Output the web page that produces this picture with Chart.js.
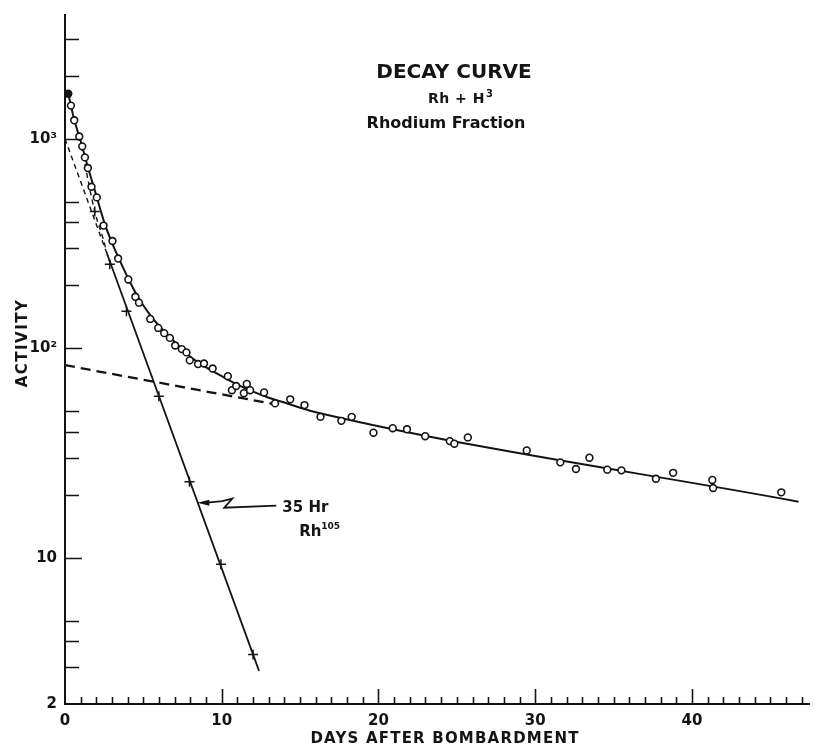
<!DOCTYPE html>
<html>
<head>
<meta charset="utf-8">
<script src="https://cdn.jsdelivr.net/npm/chart.js@4.4.1/dist/chart.umd.min.js"></script>
<style>
  body { margin: 0; background: #fff; }
  canvas { display: block; }
</style>
</head>
<body>
<canvas id="decay_chart" width="816" height="746"></canvas>
<script>
// open circles: measured activity of the rhodium fraction
var circleDays = [0.21, 0.38, 0.59, 0.91, 1.10, 1.27, 1.46, 1.69, 2.03, 2.46, 3.03, 3.39, 4.04, 4.49, 4.72,
    5.44, 5.95, 6.33, 6.69, 7.03, 7.45, 7.75, 7.96, 8.49, 8.87, 9.42, 10.39, 10.65, 10.92, 11.41, 11.6, 11.81,
    12.7, 13.4, 14.37, 15.28, 16.3, 17.63, 18.29, 19.68, 20.91, 21.82, 22.98, 24.55, 24.84, 25.7, 29.46,
    31.6, 32.6, 33.46, 34.6, 35.5, 37.7, 38.8, 41.3, 41.35, 45.7];
var circleActivity = [1640, 1440, 1225, 1025, 920, 815, 725, 590, 525, 385, 325, 268, 213, 176, 165,
    138, 125, 118, 112, 103, 99, 95.5, 87.5, 84, 84.5, 80, 73.5, 63, 66, 61, 67.5, 63,
    61.5, 54.5, 57, 53.5, 47, 45, 47, 39.5, 41.5, 41, 38, 36, 35, 37.5, 32.5,
    28.5, 26.5, 30, 26.3, 26.1, 23.8, 25.4, 23.5, 21.5, 20.5];

// "+" points: 35 hr component after subtracting the long one
var crossDays = [1.9, 2.86, 3.92, 5.99, 7.94, 9.95, 12.0];
var crossActivity = [450, 252, 150, 59, 23, 9.3, 3.45];

// hand drawn curve through the circles
var curveDays = [0.21, 0.6, 1.0, 1.5, 2.0, 2.5, 3.0, 3.5, 4.0, 4.5, 5.0, 5.5, 6.0, 7.0, 8.0, 9.0,
    10.0, 11.0, 12.0, 13.0, 14.0, 15.0, 16.0, 46.8];
var curveActivity = [1640, 1225, 975, 715, 535, 400, 318, 262, 218, 184, 160, 142, 128, 107, 91, 81,
    73.5, 67, 62, 58, 55, 52, 49.5, 18.5];

// 35 hr Rh105 line and its dashed extrapolations
var shortLineDays = [2.7, 12.38];
var shortLineActivity = [280, 2.88];
var shortDashDays = [0, 2.7];
var shortDashActivity = [1000, 280];
var innerDashDays = [1.05, 1.9, 2.45, 2.8];
var innerDashActivity = [920, 449, 330, 262];

// long lived component, dashed back to day 0
var longDashDays = [0, 13.5];
var longDashActivity = [83, 53.8];

// axes
var xLabelDays = [0, 10, 20, 30, 40];
var yLabelValues = [2, 10, 100, 1000];
var yLabelTexts = ['2', '10', '10²', '10³'];
var yMinorTicks = [3, 4, 5, 20, 30, 40, 50, 200, 300, 400, 500, 2000, 3000];

// where the "35 Hr" arrow touches the line
var arrowDay = 8.44;
var arrowActivity = 18.3;

var inkColor = '#141414';
var letterFont = '"DejaVu Sans", sans-serif';

function pairs(xs, ys) {
    return xs.map(function (x, i) { return { x: x, y: ys[i] }; });
}

function letters(ctx, text, x, y, size, align, spacing) {
    ctx.font = 'bold ' + size + 'px ' + letterFont;
    ctx.letterSpacing = (spacing || 0) + 'px';
    ctx.textAlign = align;
    ctx.textBaseline = 'alphabetic';
    ctx.fillText(text, x, y);
}

const paperPlugin = {
    id: 'paper',
    afterDraw(chart) {
        const ctx = chart.ctx;
        const xs = chart.scales.x;
        const ys = chart.scales.y;
        const area = chart.chartArea;

        ctx.save();
        ctx.strokeStyle = inkColor;
        ctx.fillStyle = inkColor;
        ctx.lineWidth = 1.6;

        // tick marks point into the plot
        ctx.beginPath();
        yLabelValues.concat(yMinorTicks).forEach(function (v) {
            var py = Math.round(ys.getPixelForValue(v)) + 0.5;
            var len = yLabelValues.indexOf(v) >= 0 ? 17 : 14;
            if (v === 2) return;
            ctx.moveTo(area.left, py);
            ctx.lineTo(area.left + len, py);
        });
        for (var d = 1; d <= 47; d++) {
            var px = Math.round(xs.getPixelForValue(d)) + 0.5;
            var len = d % 10 === 0 ? 15 : 7;
            ctx.moveTo(px, area.bottom);
            ctx.lineTo(px, area.bottom - len);
        }
        ctx.stroke();

        // axis titles
        letters(ctx, 'DAYS AFTER BOMBARDMENT', 445, 743, 15, 'center', 1.2);
        ctx.save();
        ctx.translate(27, 343);
        ctx.rotate(-Math.PI / 2);
        letters(ctx, 'ACTIVITY', 0, 0, 15, 'center', 1.5);
        ctx.restore();

        // title block
        letters(ctx, 'DECAY CURVE', 454, 78, 20, 'center', 0);
        letters(ctx, 'Rh + H', 428, 103, 14, 'left', 0.5);
        letters(ctx, '3', 486, 97, 10, 'left', 0);
        letters(ctx, 'Rhodium Fraction', 446, 128, 16, 'center', 0);

        // 35 Hr arrow
        var tx = xs.getPixelForValue(arrowDay);
        var ty = ys.getPixelForValue(arrowActivity);
        ctx.beginPath();
        ctx.moveTo(tx, ty);
        ctx.lineTo(tx + 12, ty - 3);
        ctx.lineTo(tx + 12, ty + 3);
        ctx.closePath();
        ctx.fill();
        ctx.beginPath();
        ctx.lineWidth = 1.8;
        ctx.moveTo(tx + 10, ty);
        ctx.lineTo(tx + 25, ty - 1.5);
        ctx.lineTo(tx + 35, ty - 4);
        ctx.lineTo(tx + 27, ty + 5);
        ctx.lineTo(tx + 79, ty + 3);
        ctx.stroke();
        letters(ctx, '35 Hr', tx + 85, ty + 9, 15, 'left', 0);
        letters(ctx, 'Rh', tx + 102, ty + 33, 15, 'left', 0);
        letters(ctx, '105', tx + 124, ty + 26, 9, 'left', 0);

        ctx.restore();
    }
};

var lineBase = {
    borderColor: inkColor,
    pointRadius: 0,
    fill: false,
    order: 2
};

new Chart(document.getElementById('decay_chart'), {
    type: 'line',
    data: {
        datasets: [
            {
                label: 'measured',
                data: pairs(circleDays, circleActivity),
                showLine: false,
                pointRadius: 3.4,
                pointBorderWidth: 1.6,
                pointBorderColor: inkColor,
                pointBackgroundColor: circleDays.map(function (d, i) { return i === 0 ? inkColor : '#fff'; }),
                order: 0
            },
            {
                label: '35 hr points',
                data: pairs(crossDays, crossActivity),
                showLine: false,
                pointStyle: 'cross',
                pointRadius: 5,
                pointBorderWidth: 1.5,
                pointBorderColor: inkColor,
                order: 0
            },
            Object.assign({}, lineBase, {
                label: 'curve',
                data: pairs(curveDays, curveActivity),
                borderWidth: 2,
                cubicInterpolationMode: 'monotone'
            }),
            Object.assign({}, lineBase, {
                label: 'long component',
                data: pairs(longDashDays, longDashActivity),
                borderWidth: 2.3,
                borderDash: [10, 6]
            }),
            Object.assign({}, lineBase, {
                label: '35 hr',
                data: pairs(shortLineDays, shortLineActivity),
                borderWidth: 1.8
            }),
            Object.assign({}, lineBase, {
                label: '35 hr extrapolated',
                data: pairs(shortDashDays, shortDashActivity),
                borderWidth: 1.4,
                borderDash: [5, 4]
            }),
            Object.assign({}, lineBase, {
                label: 'difference',
                data: pairs(innerDashDays, innerDashActivity),
                borderWidth: 1.4,
                borderDash: [5, 4],
                cubicInterpolationMode: 'monotone'
            })
        ]
    },
    options: {
        responsive: false,
        animation: false,
        layout: {
            padding: { top: 15, right: 3, left: 0, bottom: 0 }
        },
        scales: {
            x: {
                type: 'linear',
                min: 0,
                max: 47.5,
                afterFit: function (scale) { scale.height = 42; },
                afterBuildTicks: function (scale) {
                    scale.ticks = xLabelDays.map(function (v) { return { value: v }; });
                },
                grid: { display: false },
                border: { display: true, color: inkColor, width: 2 },
                ticks: {
                    autoSkip: false,
                    maxRotation: 0,
                    padding: 0,
                    color: inkColor,
                    font: { family: letterFont, size: 15, weight: 'bold' }
                }
            },
            y: {
                type: 'logarithmic',
                min: 2,
                max: 3900,
                afterFit: function (scale) { scale.width = 65; },
                afterBuildTicks: function (scale) {
                    scale.ticks = yLabelValues.map(function (v) { return { value: v }; });
                },
                grid: { display: false },
                border: { display: true, color: inkColor, width: 2 },
                ticks: {
                    autoSkip: false,
                    padding: 0,
                    color: inkColor,
                    font: { family: letterFont, size: 15, weight: 'bold' },
                    callback: function (value) {
                        var i = yLabelValues.indexOf(value);
                        return i >= 0 ? yLabelTexts[i] : '';
                    }
                }
            }
        },
        plugins: {
            legend: { display: false },
            tooltip: { enabled: false },
            title: { display: false }
        }
    },
    plugins: [paperPlugin]
});
</script>
</body>
</html>
